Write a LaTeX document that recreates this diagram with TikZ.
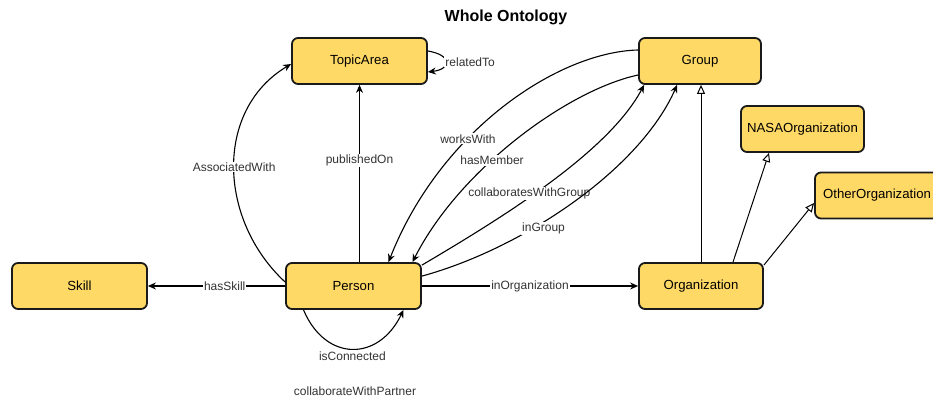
\documentclass[tikz,border=0pt]{standalone}
\usepackage{fontspec}
\setmainfont{Liberation Sans}
\usepackage{tikz}
\usetikzlibrary{calc,arrows.meta,positioning}
\definecolor{boxfill}{HTML}{FFD966}
\definecolor{boxline}{HTML}{1A1A1A}
\definecolor{labtext}{HTML}{333333}
\tikzstyle{concept} = [rectangle, rounded corners=6pt, minimum height=46pt, text centered, draw=boxline, line width=1.8pt, fill=boxfill, font=\fontsize{13.2}{15}\selectfont]
\tikzstyle{arrow} = [line width=1.1pt,-{Stealth[length=8pt,width=7pt]}]
\tikzstyle{isa} = [line width=1pt,-{Triangle[open,length=9pt,width=8pt,fill=white]}]
\tikzstyle{rel} = [fill=white, inner sep=1pt, text=labtext, font=\fontsize{12}{14}\selectfont]

\begin{document}
\begin{tikzpicture}[x=1pt,y=1pt]
	%% picture frame (pixels of the original, y counted upwards)
	\useasboundingbox (0,0) rectangle (933,403);
	\clip (0,0) rectangle (933,403);

	%% Title
	\node[font=\fontsize{16}{18}\selectfont\bfseries] (title) at (506,386) {Whole Ontology};

	%% Classes
	\node[concept, minimum width=135pt] (topic) at (359.5,342) {TopicArea};
	\node[concept, minimum width=122pt] (group) at (700,342) {Group};
	\node[concept, minimum width=135pt] (skill) at (79.5,117) {Skill};
	\node[concept, minimum width=135pt] (person) at (353.5,117) {Person};
	\node[concept, minimum width=124pt] (org) at (701,117) {Organization};
	\node[concept, minimum width=123pt] (nasa) at (802.5,274) {NASAOrganization};
	\node[concept, minimum width=124pt] (other) at (877,207.5) {OtherOrganization};

	%% loose label under Person
	\node[rel] (partner) at (355,12) {collaborateWithPartner};

	%% Person relations
	\draw[arrow] (topic.south |- person.north) -- (topic.south)
	  node[rel, pos=0.575] {publishedOn};
	\draw[arrow] (person.west) -- (skill.east)
	  node[rel, pos=0.44] {hasSkill};
	\draw[arrow] (person.east) -- (org.west)
	  node[rel, pos=0.5] {inOrganization};
	\draw[arrow] ([yshift=4pt]person.west) .. controls +(-67,62) and +(-77,-46) .. ([yshift=-3pt]topic.west)
	  node[rel, pos=0.5] {AssociatedWith};

	%% self loops
	\draw[arrow] ([yshift=10pt]topic.east) .. controls +(24,-4) and +(24,3) .. ([yshift=-11pt]topic.east)
	  node[rel, pos=0.5, anchor=west, xshift=-2pt] {relatedTo};
	\draw[arrow] ([xshift=-50pt]person.south) .. controls +(22,-52) and +(-25,-52) .. ([xshift=50pt]person.south)
	  node[rel, pos=0.5, yshift=-7pt] {isConnected};

	%% Group <-> Person
	\draw[arrow] ([yshift=11pt]group.west) .. controls +(-80,-2) and +(52,132) .. ([xshift=35pt]person.north)
	  node[rel, pos=0.63] {worksWith};
	\draw[arrow] ([yshift=-14pt]group.west) .. controls +(-70,-15) and +(47,93) .. ([xshift=59pt]person.north)
	  node[rel, pos=0.6] {hasMember};
	\draw[arrow] ([yshift=-3pt]person.north east) .. controls +(85,50) and +(-35,-66) .. ([xshift=6pt]group.south west)
	  node[rel, pos=0.41, yshift=4pt] {collaboratesWithGroup};
	\draw[arrow] ([yshift=-14pt]person.north east) .. controls +(99,27) and +(-38,-86) .. ([xshift=39pt]group.south west)
	  node[rel, pos=0.4, yshift=-7pt] {inGroup};

	%% subclass links
	\draw[isa] (org.north) -- (org.north |- group.south);
	\draw[isa] ([xshift=32pt]org.north) -- ([xshift=-33.5pt]nasa.south);
	\draw[isa] ([yshift=-3pt]org.north east) -- ([yshift=-7.5pt]other.west);
\end{tikzpicture}
\end{document}
